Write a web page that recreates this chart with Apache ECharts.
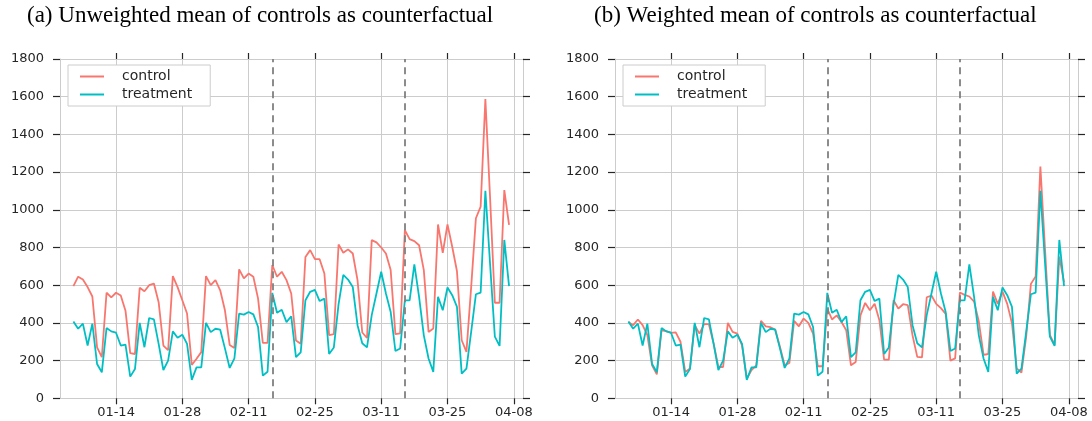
<!DOCTYPE html>
<html><head><meta charset="utf-8">
<script src="https://cdn.jsdelivr.net/npm/echarts@6/dist/echarts.min.js"></script>
<style>html,body{margin:0;padding:0;background:#fff}#c{width:1092px;height:421px}</style>
</head><body><div id="c"></div>
<script>
// ---- data ----
const startDate = [2018, 0, 5];   // first day of the daily series (01-05)
const tickDates = ['01-14','01-28','02-11','02-25','03-11','03-25','04-08'];
const interventionDates = ['02-16','03-16'];
const titles = ['(a) Unweighted mean of controls as counterfactual', '(b) Weighted mean of controls as counterfactual'];
const seriesNames = ['control','treatment'];

const controlUnweighted = [
 595,645,630,590,540,270,218,560,535,560,
 545,465,240,235,586,568,600,609,510,280,
 255,648,590,520,450,177,210,245,648,600,
 627,573,467,283,267,684,636,662,645,529,
 294,294,707,645,671,627,556,307,289,750,
 786,738,738,662,335,340,816,772,790,768,
 627,349,320,839,827,800,768,680,340,344,
 892,844,834,812,680,352,370,922,772,922,
 804,674,308,246,590,955,1017,1587,1060,507,
 507,1105,920];

const controlWeighted = [
 405,388,418,388,335,175,127,361,356,347,
 350,300,140,158,388,343,393,393,290,166,
 166,400,352,343,281,104,150,175,411,382,
 377,365,273,175,188,411,382,423,400,343,
 170,170,476,418,440,405,361,175,193,440,
 506,467,502,414,205,205,520,476,499,494,
 334,220,217,536,545,501,478,448,200,212,
 561,549,540,513,407,230,235,566,501,566,
 501,398,159,136,327,607,646,1230,784,336,
 283,752,615];

const treatment = [
 408,369,396,280,396,182,138,373,355,348,
 280,285,115,155,400,271,426,419,289,150,
 200,355,321,337,289,98,164,164,400,351,
 369,364,265,161,212,449,444,458,445,378,
 120,141,559,454,470,404,435,218,244,520,
 565,575,516,529,235,270,500,655,630,590,
 388,292,270,441,556,671,556,458,251,264,
 520,520,710,538,334,211,140,538,467,588,
 547,485,131,157,352,552,561,1101,710,327,
 278,840,595];

// ---- helpers: x unit = fortnights since 01-14 ----
const DAY = 86400000;
const YEAR = startDate[0];
const tRef = Date.UTC(YEAR, 0, 14);
const t0 = Date.UTC(startDate[0], startDate[1], startDate[2]);
function mdToMs(s){ const p = s.split('-'); return Date.UTC(YEAR, +p[0]-1, +p[1]); }
function toX(ms){ return (ms - tRef) / (14*DAY); }
function fmt(v){ const d = new Date(tRef + Math.round(v*14)*DAY);
  const m = String(d.getUTCMonth()+1).padStart(2,'0'), dd = String(d.getUTCDate()).padStart(2,'0');
  return m + '-' + dd; }
const xs = treatment.map((_, i) => toX(t0 + i*DAY));
const tickX = tickDates.map(s => toX(mdToMs(s)));
const interX = interventionDates.map(s => toX(mdToMs(s)));
function pairs(vals){ return vals.map((v,i) => [xs[i], v]); }

const RED = '#F8766D', TEAL = '#00BFC4';
const GRIDC = '#cccccc', TXT = '#262626';
const XMIN = -0.845, XMAX = 6.139;
const lefts = [60, 615];

const grids = [], xAxes = [], yAxes = [], series = [], legends = [], titleArr = [];
const controls = [controlUnweighted, controlWeighted];
const labelFont = {fontFamily:'DejaVu Sans', fontSize:13, color:TXT};

lefts.forEach((L, g) => {
  grids.push({left:L, top:59, width:463, height:339.3, containLabel:false});
  xAxes.push({type:'value', gridIndex:g, position:'bottom', min:XMIN, max:XMAX,
    minInterval:1, maxInterval:1,
    axisLine:{show:true, onZero:false, lineStyle:{color:GRIDC, width:1}},
    axisTick:{show:true, inside:false, length:6, customValues:tickX, lineStyle:{color:TXT, width:1.2}},
    axisLabel:Object.assign({show:true, margin:8, customValues:tickX, formatter:fmt}, labelFont),
    splitLine:{show:true, lineStyle:{color:GRIDC, width:1}}});
  xAxes.push({type:'value', gridIndex:g, position:'top', min:XMIN, max:XMAX,
    minInterval:1, maxInterval:1,
    axisLine:{show:true, onZero:false, lineStyle:{color:GRIDC, width:1}},
    axisTick:{show:true, inside:false, length:6, customValues:tickX, lineStyle:{color:TXT, width:1.2}},
    axisLabel:{show:false}, splitLine:{show:false}});
  yAxes.push({type:'value', gridIndex:g, position:'left', min:0, max:1800, interval:200,
    axisLine:{show:true, onZero:false, lineStyle:{color:GRIDC, width:1}},
    axisTick:{show:true, inside:false, length:7, lineStyle:{color:TXT, width:1.2}},
    axisLabel:Object.assign({show:true, margin:16, formatter: v => String(v)}, labelFont),
    splitLine:{show:true, lineStyle:{color:GRIDC, width:1}}});
  yAxes.push({type:'value', gridIndex:g, position:'right', min:0, max:1800, interval:200,
    axisLine:{show:true, onZero:false, lineStyle:{color:GRIDC, width:1}},
    axisTick:{show:true, inside:false, length:7, lineStyle:{color:TXT, width:1.2}},
    axisLabel:{show:false}, splitLine:{show:false}});
  series.push({name:seriesNames[0], type:'line', xAxisIndex:2*g, yAxisIndex:2*g,
    data:pairs(controls[g]), symbol:'none', showSymbol:false, color:RED,
    lineStyle:{color:RED, width:1.8}, z:3});
  series.push({name:seriesNames[1], type:'line', xAxisIndex:2*g, yAxisIndex:2*g,
    data:pairs(treatment), symbol:'none', showSymbol:false, color:TEAL,
    lineStyle:{color:TEAL, width:1.8}, z:4,
    markLine:{silent:true, symbol:['none','none'], label:{show:false},
      lineStyle:{color:'#808080', type:[7,5], width:1.8},
      data:interX.map(x => ({xAxis:x}))}});
  legends.push({orient:'vertical', left:L+8, top:65, data:seriesNames,
    icon:'rect', itemWidth:24, itemHeight:2, itemGap:3, padding:[4,18,4,12],
    borderColor:GRIDC, borderWidth:1, borderRadius:0, backgroundColor:'#ffffff',
    textStyle:{fontFamily:'DejaVu Sans', fontSize:14, lineHeight:15, color:TXT, padding:[0,0,0,13]}});
  titleArr.push({text:titles[g], left:[27,594][g], top:4, padding:0,
    textStyle:{fontFamily:'Liberation Serif', fontSize:23, fontWeight:'normal', color:'#000'}});
});

const chart = echarts.init(document.getElementById('c'), null, {renderer:'canvas'});
chart.setOption({animation:false, backgroundColor:'#fff', title:titleArr, legend:legends,
  grid:grids, xAxis:xAxes, yAxis:yAxes, series:series});
</script></body></html>
